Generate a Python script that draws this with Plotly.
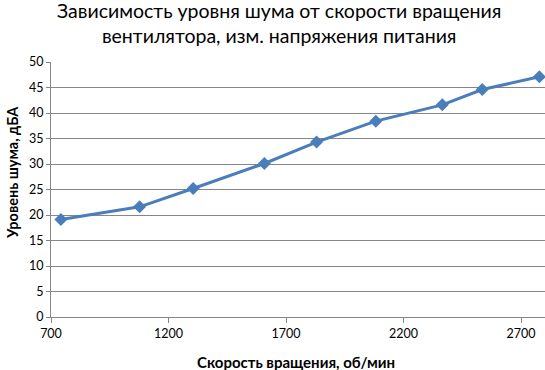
import plotly.graph_objects as go

speed_rpm = [742, 1077, 1305, 1608, 1830, 2082, 2365, 2535, 2778]
noise_dba = [19.1, 21.6, 25.2, 30.1, 34.3, 38.4, 41.6, 44.6, 47.1]

x_ticks = [700, 1200, 1700, 2200, 2700]
y_ticks = [0, 5, 10, 15, 20, 25, 30, 35, 40, 45, 50]

title_text = "Зависимость уровня шума от скорости вращения<br>вентилятора, изм. напряжения питания"
x_title = "Скорость вращения, об/мин"
y_title = "Уровень шума, дБА"

FONT = "Lato"
GRID = "#868686"

W, H = 545, 370
l, r, t, b = 51, 0, 62, 53
pw, ph = W - l - r, H - t - b
def px(xp): return (xp - l) / pw
def py(yp): return (H - b - yp) / ph

fig = go.Figure()
fig.add_trace(go.Scatter(
    x=speed_rpm, y=noise_dba, mode="lines+markers",
    line=dict(color="#4a7ebb", width=3),
    marker=dict(symbol="diamond", size=10, color="#4a7ebb"),
    cliponaxis=False, showlegend=False,
))

fig.update_layout(
    width=W, height=H,
    margin=dict(l=l, r=r, t=t, b=b),
    paper_bgcolor="white", plot_bgcolor="white",
    font=dict(family=FONT, size=12, color="black"),
    xaxis=dict(range=[700, 2802], tickvals=x_ticks, showgrid=False,
               showline=True, linecolor=GRID, linewidth=1,
               ticks="outside", ticklen=5, tickcolor=GRID, zeroline=False,
               tickfont=dict(size=12.5)),
    yaxis=dict(range=[0, 50], tickvals=y_ticks, showgrid=True, gridcolor=GRID,
               gridwidth=1, showline=True, linecolor=GRID, linewidth=1,
               ticks="outside", ticklen=4, tickcolor=GRID, zeroline=False,
               tickfont=dict(size=12.5)),
    annotations=[
        dict(text=title_text, x=px(279), y=py(23), xref="paper", yref="paper",
             xanchor="center", yanchor="middle", showarrow=False,
             font=dict(size=19.5, family=FONT)),
        dict(text="<b>" + x_title + "</b>", x=px(296), y=py(362), xref="paper", yref="paper",
             xanchor="center", yanchor="middle", showarrow=False,
             font=dict(size=15, family=FONT)),
        dict(text="<b>" + y_title + "</b>", x=px(12), y=py(173), xref="paper", yref="paper",
             xanchor="center", yanchor="middle", showarrow=False,
             textangle=-90, font=dict(size=14.5, family=FONT)),
    ],
)

fig.write_html("out.html")
